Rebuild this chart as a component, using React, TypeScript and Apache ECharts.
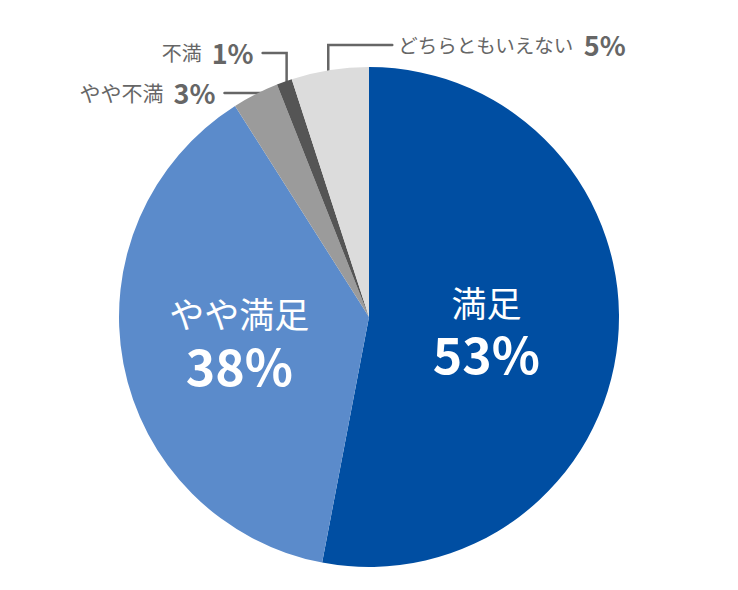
import React, { useEffect, useRef } from "react";
import * as echarts from "echarts";

// Survey result: satisfaction breakdown (percent)
const categories = ["満足", "やや満足", "やや不満", "不満", "どちらともいえない"];
const values = [53, 38, 3, 1, 5];
const colors = ["#004ea2", "#5b8bcb", "#9b9b9b", "#555555", "#dcdcdc"];

// Leader-line geometry for the small slices, relative to the pie:
// at = position within the slice's arc, r = anchor radius (fraction of R),
// rise = height of the elbow above centre (fraction of R), run = horizontal length (px)
const leaderLayout: Record<string, { at: number; r: number; rise: number; run: number; nameSize: number }> = {
  "やや不満": { at: 0.4, r: 0.905, rise: 0.896, run: -38, nameSize: 21 },
  "不満": { at: 0.35, r: 0.948, rise: 1.056, run: -24, nameSize: 20 },
  "どちらともいえない": { at: 0.36, r: 0.816, rise: 1.088, run: 64, nameSize: 19.5 },
};

// Horizontal nudge for the labels drawn inside the large slices
const innerShift: Record<string, number> = { "満足": -10, "やや満足": -4 };

const W = 738;
const H = 590;
const CX = 369;
const CY = 317;
const R = 250;
const FONT = "'Noto Sans CJK JP', 'Noto Sans', sans-serif";

export default function App() {
  const ref = useRef<HTMLDivElement>(null);

  useEffect(() => {
    document.body.style.margin = "0";
    if (!ref.current) return;
    const chart = echarts.init(ref.current, undefined, { renderer: "svg" });

    const total = values.reduce((a, b) => a + b, 0);
    // cumulative angles (degrees, clockwise from 12 o'clock)
    const starts: number[] = [];
    let acc = 0;
    values.forEach((v) => {
      starts.push((acc / total) * 360);
      acc += v;
    });

    const bigLabel = {
      show: true,
      position: "inside",
      formatter: "{n|{b}}\n{v|{c}%}",
      rich: {
        n: { fontFamily: FONT, fontSize: 35, color: "#ffffff", lineHeight: 42, align: "center" },
        v: { fontFamily: FONT, fontSize: 50, fontWeight: "bold", color: "#ffffff", lineHeight: 60, align: "center" },
      },
    };
    const smallLabel = (size: number) => ({
      show: true,
      position: "outside",
      formatter: "{n|{b}}{v|{c}%}",
      rich: {
        n: { fontFamily: FONT, fontSize: size, color: "#666666", padding: [0, 10, 0, 0] },
        v: { fontFamily: FONT, fontSize: 27, fontWeight: "bold", color: "#666666" },
      },
    });

    const data = categories.map((name, i) => ({
      name,
      value: values[i],
      itemStyle: { color: colors[i] },
      label: leaderLayout[name] ? smallLabel(leaderLayout[name].nameSize) : bigLabel,
      labelLine: { show: !!leaderLayout[name] },
    }));

    chart.setOption({
      animation: false,
      series: [
        {
          type: "pie",
          center: [CX, CY],
          radius: [0, R],
          startAngle: 90,
          clockwise: true,
          avoidLabelOverlap: false,
          minShowLabelAngle: 0,
          data,
          labelLine: {
            lineStyle: { color: "#666666", width: 2.5, cap: "round", join: "miter" },
          },
          labelLayout: (params: any) => {
            const name = categories[params.dataIndex];
            const cfg = leaderLayout[name];
            if (!cfg) return { dx: innerShift[name] || 0, dy: 2 };
            const i = params.dataIndex;
            const span = (values[i] / total) * 360;
            const theta = ((starts[i] + cfg.at * span) * Math.PI) / 180;
            const ax = CX + cfg.r * R * Math.sin(theta);
            const ay = CY - cfg.r * R * Math.cos(theta);
            const ey = CY - cfg.rise * R;
            const sx = ax + cfg.run;
            const gap = cfg.run < 0 ? -9 : 6;
            return {
              x: sx + gap,
              y: ey - 1,
              align: cfg.run < 0 ? "right" : "left",
              verticalAlign: "middle",
              labelLinePoints: [
                [sx, ey],
                [ax, ey],
                [ax, ay],
              ],
            };
          },
        },
      ],
    });

    return () => chart.dispose();
  }, []);

  return <div ref={ref} style={{ width: W, height: H }} />;
}
